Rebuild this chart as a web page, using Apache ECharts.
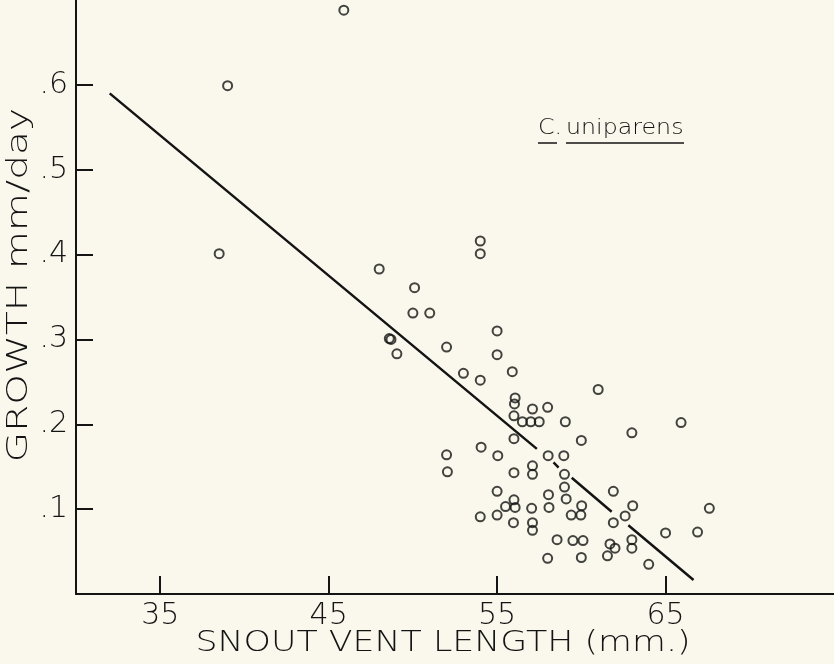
<!DOCTYPE html>
<html><head><meta charset="utf-8">
<script src="https://cdn.jsdelivr.net/npm/echarts@6/dist/echarts.min.js"></script>
<style>html,body{margin:0;padding:0;background:#FAF8EC}#c{width:834px;height:664px}</style>
</head><body><div id="c"></div>
<script>
// Snout-vent length (mm) of each animal
const svl = [45.9,39.0,38.5,54.0,54.0,48.0,50.1,50.0,51.0,48.6,48.7,49.05,52.0,53.0,54.0,55.0,55.0,55.9,61.0,56.07,56.03,57.1,58.0,56.0,56.5,57.0,57.5,59.05,56.0,60.0,52.0,54.05,55.04,58.03,58.96,52.05,56.0,57.1,57.1,59.0,59.0,59.1,61.9,55.0,56.0,58.05,58.08,55.5,56.07,57.05,60.02,54.0,55.0,55.97,57.1,57.1,59.4,59.97,61.9,58.56,59.5,60.1,62.0,61.55,58.0,60.0,63.0,65.92,63.05,62.6,63.0,63.0,65.0,66.9,67.6,64.0,61.7];
// Growth rate (mm/day) of each animal
const growth = [0.688,0.599,0.401,0.416,0.401,0.383,0.361,0.331,0.331,0.301,0.300,0.283,0.291,0.260,0.252,0.310,0.282,0.262,0.241,0.231,0.224,0.218,0.220,0.210,0.203,0.203,0.203,0.203,0.183,0.181,0.164,0.173,0.163,0.163,0.163,0.144,0.143,0.151,0.141,0.141,0.126,0.112,0.121,0.121,0.111,0.117,0.102,0.103,0.102,0.101,0.104,0.091,0.093,0.084,0.084,0.075,0.093,0.093,0.084,0.064,0.063,0.063,0.054,0.045,0.042,0.043,0.190,0.202,0.104,0.092,0.064,0.054,0.072,0.073,0.101,0.035,0.059];
// Regression line, drawn in pieces with gaps as in the original ('-' = gap)
const lineX = [32.0, 57.36, 57.8, 58.35, 58.65, 59.0, 59.43, 61.8, 62.3, 62.79, 66.66];
const lineY = [0.590, 0.171, '-', 0.155, 0.149, '-', 0.137, 0.097, '-', 0.081, 0.0165];
// Axis ticks
const xTicks = [35, 45, 55, 65];
const yTicks = [0.1, 0.2, 0.3, 0.4, 0.5, 0.6];
const xName = 'SNOUT VENT LENGTH (mm.)';
const yName = 'GROWTH mm/day';
const species = ['C.', 'uniparens'];

const FONT = "'DejaVu Sans', sans-serif";
const INK = '#141414';
const chart = echarts.init(document.getElementById('c'));
chart.setOption({
  backgroundColor: '#FAF8EC',
  animation: false,
  grid: {left: 76, right: 0, top: 0, bottom: 70},
  xAxis: {
    type: 'value', min: 30, max: 75,
    splitLine: {show: false},
    axisLine: {lineStyle: {color: INK, width: 2}},
    axisTick: {inside: true, length: 18, lineStyle: {color: INK, width: 2}, customValues: xTicks},
    axisLabel: {customValues: xTicks, color: INK, fontFamily: FONT, fontSize: 30, fontWeight: 200, margin: 7}
  },
  yAxis: {
    type: 'value', min: 0, max: 0.7,
    splitLine: {show: false},
    axisLine: {lineStyle: {color: INK, width: 2}},
    axisTick: {inside: true, length: 17, lineStyle: {color: INK, width: 2}, customValues: yTicks},
    axisLabel: {customValues: yTicks, color: INK, fontFamily: FONT, fontSize: 30, fontWeight: 200, margin: 8,
      formatter: v => '.' + Math.round(v * 10)}
  },
  graphic: [
    {type: 'text', x: 19, y: 285, rotation: Math.PI / 2, scaleX: 1.35, style: {text: yName, font: "200 29px 'DejaVu Sans'", fill: INK, align: 'center', verticalAlign: 'middle'}},
    {type: 'text', x: 443, y: 643, scaleX: 1.2, style: {text: xName, font: "200 29px 'DejaVu Sans'", fill: INK, align: 'center', verticalAlign: 'middle'}},
    {type: 'text', x: 538, y: 139, scaleX: 1.13, style: {text: species[0], font: "200 21px 'DejaVu Sans'", fill: INK, verticalAlign: 'bottom'}},
    {type: 'text', x: 566, y: 139, scaleX: 1.13, style: {text: species[1], font: "200 21px 'DejaVu Sans'", fill: INK, verticalAlign: 'bottom'}},
    {type: 'line', shape: {x1: 538, y1: 143, x2: 557, y2: 143}, style: {stroke: INK, lineWidth: 1.5}},
    {type: 'line', shape: {x1: 566, y1: 143, x2: 684, y2: 143}, style: {stroke: INK, lineWidth: 1.5}}
  ],
  series: [
    {type: 'line', data: lineX.map((x, i) => [x, lineY[i]]), symbol: 'none', connectNulls: false,
     lineStyle: {color: INK, width: 2.5}, z: 2},
    {type: 'scatter', data: svl.map((x, i) => [x, growth[i]]), symbol: 'circle', symbolSize: 9,
     itemStyle: {color: 'rgba(0,0,0,0)', borderColor: INK, borderWidth: 2}, z: 3}
  ]
});
</script></body></html>
